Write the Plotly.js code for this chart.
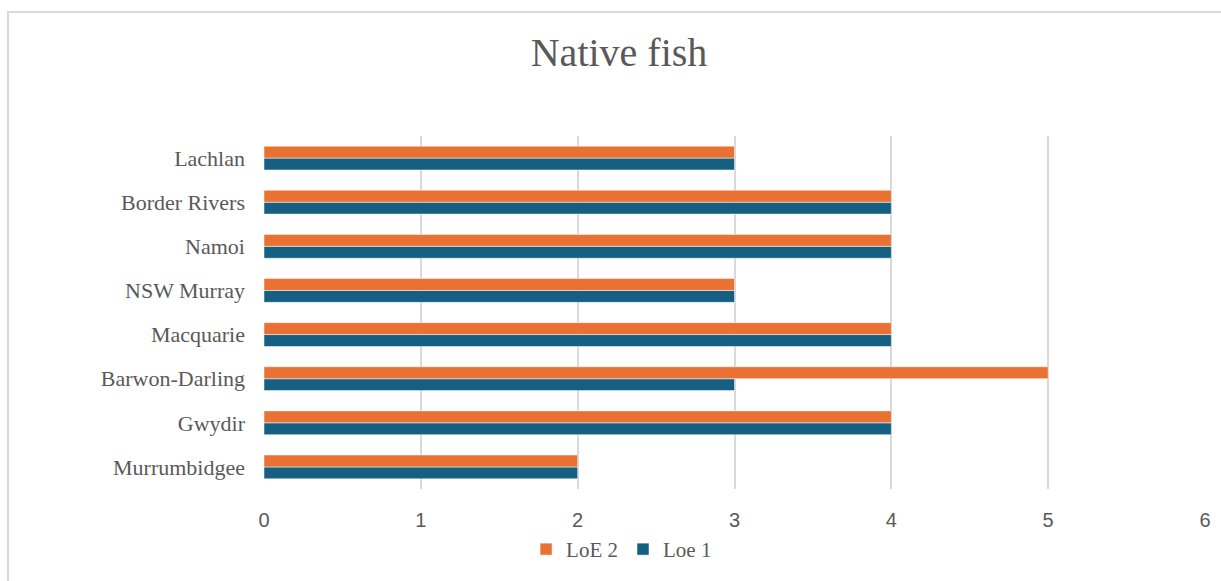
<!DOCTYPE html>
<html>
<head>
<meta charset="utf-8">
<script src="https://cdn.plot.ly/plotly-3.0.1.min.js"></script>
<style>
  html, body { margin: 0; padding: 0; background: #ffffff; }
  #frame {
    position: absolute; left: 7px; top: 11px; width: 1220px; height: 580px;
    border-left: 2px solid #d9d9d9; border-top: 2px solid #d9d9d9;
  }
  #chart { position: absolute; left: 0; top: 0; width: 1221px; height: 581px; }
</style>
</head>
<body>
<div id="frame"></div>
<div id="chart"></div>
<script>
// Rivers, listed bottom to top as they appear on the category axis
const rivers = ["Murrumbidgee", "Gwydir", "Barwon-Darling", "Macquarie", "NSW Murray", "Namoi", "Border Rivers", "Lachlan"];
const loe1 = [2, 4, 3, 4, 3, 4, 4, 3];
const loe2 = [2, 4, 5, 4, 3, 4, 4, 3];
const xTicks = [0, 1, 2, 3, 4, 5, 6];

const serif = "Liberation Serif, DejaVu Serif, serif";
const sans = "Liberation Sans, Arial, sans-serif";
const grey = "#595959";

const traces = [
  { type: "bar", orientation: "h", name: "Loe 1", y: rivers, x: loe1,
    marker: { color: "#156082", line: { color: "#ffffff", width: 0.5 } }, hoverinfo: "x+y" },
  { type: "bar", orientation: "h", name: "LoE 2", y: rivers, x: loe2,
    marker: { color: "#e97132", line: { color: "#ffffff", width: 0.5 } }, hoverinfo: "x+y" }
];

const layout = {
  width: 1221, height: 581,
  paper_bgcolor: "rgba(0,0,0,0)", plot_bgcolor: "rgba(0,0,0,0)",
  margin: { l: 264, r: 16, t: 136, b: 91 },
  barmode: "group", bargap: 0.46, bargroupgap: 0,
  title: { text: "Native fish", x: 0.507, xanchor: "center", y: 0.91, yanchor: "middle",
           font: { family: serif, size: 40, color: grey } },
  xaxis: {
    range: [0, 6], tickvals: xTicks, ticktext: xTicks.map(String),
    showgrid: true, gridcolor: "#d9d9d9", gridwidth: 2, zeroline: false,
    showline: false, ticks: "", ticklabelstandoff: 17,
    tickfont: { family: sans, size: 20, color: grey }
  },
  yaxis: {
    type: "category", categoryorder: "array", categoryarray: rivers,
    showgrid: false, zeroline: false, showline: false, ticks: "",
    ticklabelstandoff: 18,
    tickfont: { family: serif, size: 22, color: grey }
  },
  legend: { orientation: "h", x: 0.38, xanchor: "center", y: -0.168, yanchor: "middle",
            traceorder: "reversed", font: { family: serif, size: 21, color: grey },
            itemwidth: 30, tracegroupgap: 0 },
  showlegend: true
};

Plotly.newPlot("chart", traces, layout, { displayModeBar: false, staticPlot: false });
</script>
</body>
</html>
